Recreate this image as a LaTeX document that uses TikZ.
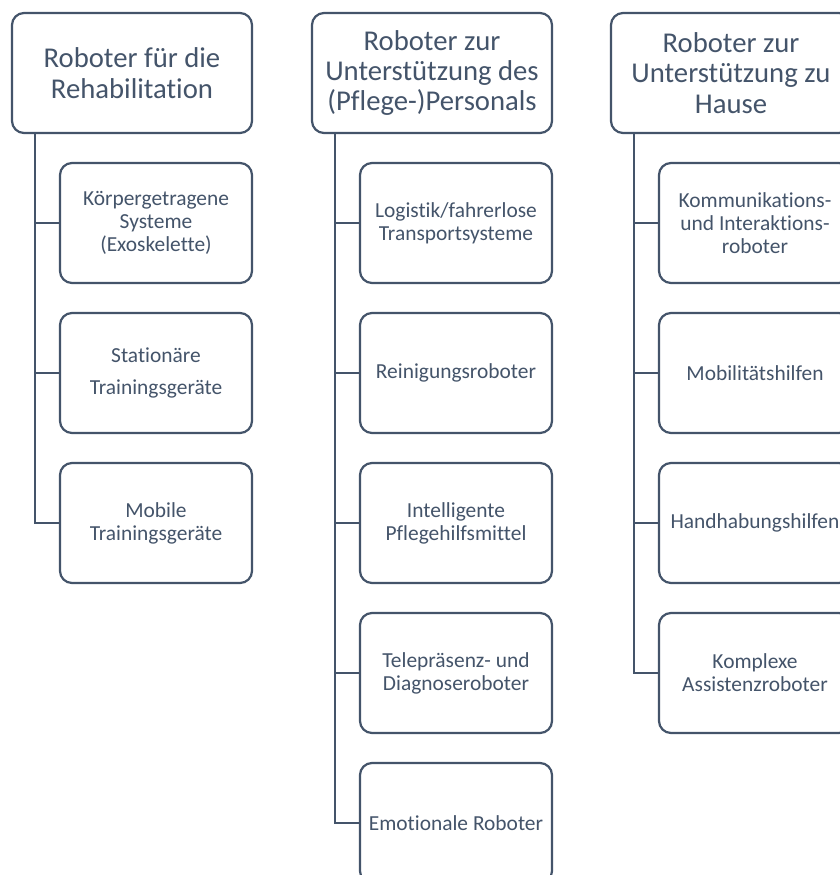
\documentclass[tikz,border=0pt]{standalone}
\usepackage{fontspec}
\setmainfont{Carlito}[Ligatures=CommonOff]
\definecolor{slate}{HTML}{44546A}
\tikzset{
  headbox/.style={draw=slate, line width=2.2bp, rounded corners=12bp, fill=white,
    minimum width=240bp, minimum height=120bp, inner sep=0pt, align=center,
    text=slate, font=\fontsize{28.8}{30.5}\selectfont},
  childbox/.style={draw=slate, line width=2.2bp, rounded corners=12bp, fill=white,
    minimum width=192bp, minimum height=120bp, inner sep=0pt, align=center,
    text=slate, font=\fontsize{21.5}{23.2}\selectfont},
  link/.style={draw=slate, line width=2.4bp}
}
\begin{document}
\begin{tikzpicture}[x=1bp,y=-1bp]
\useasboundingbox (0,0) rectangle (840,875);
\clip (0,0) rectangle (840,875);
\fill[white] (0,0) rectangle (840,875);
% left column
\node[headbox] (h1) at (132,73) {Roboter für die\\Rehabilitation};
\node[childbox] (a1) at (156,223) {Körpergetragene\\Systeme\\(Exoskelette)};
\node[childbox] (a2) at (156,373) {Stationäre\\[9.5bp]Trainingsgeräte};
\node[childbox] (a3) at (156,523) {Mobile\\Trainingsgeräte};
% middle column
\node[headbox] (h2) at (432,73) {Roboter zur\\Unterstützung des\\(Pflege-)Personals};
\node[childbox] (b1) at (456,223) {Logistik/fahrerlose\\Transportsysteme};
\node[childbox] (b2) at (456,373) {Reinigungsroboter};
\node[childbox] (b3) at (456,523) {Intelligente\\Pflegehilfsmittel};
\node[childbox] (b4) at (456,673) {Telepräsenz- und\\Diagnoseroboter};
\node[childbox] (b5) at (456,823) {Emotionale Roboter};
% right column
\node[headbox] (h3) at (731,73) {Roboter zur\\Unterstützung zu\\Hause};
\node[childbox] (c1) at (755,223) {Kommunikations-\\und Interaktions-\\roboter};
\node[childbox] (c2) at (755,373) {Mobilitätshilfen};
\node[childbox] (c3) at (755,523) {Handhabungshilfen};
\node[childbox] (c4) at (755,673) {Komplexe\\Assistenzroboter};
% connectors
\foreach \c in {a1,a2,a3}
  \draw[link] ([xshift=24bp]h1.south west) |- (\c.west);
\foreach \c in {b1,b2,b3,b4,b5}
  \draw[link] ([xshift=24bp]h2.south west) |- (\c.west);
\foreach \c in {c1,c2,c3,c4}
  \draw[link] ([xshift=24bp]h3.south west) |- (\c.west);
\end{tikzpicture}
\end{document}
